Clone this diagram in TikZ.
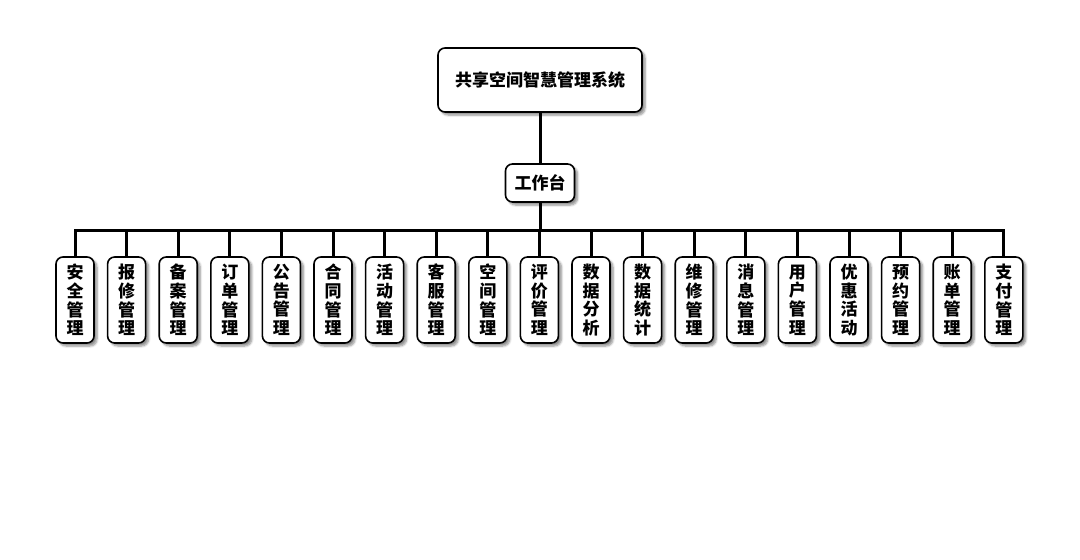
\documentclass[tikz,border=0pt]{standalone}
\usepackage{fontspec}
\setmainfont{Noto Sans CJK SC}
\usetikzlibrary{positioning,shadows.blur}
\begin{document}
\begin{tikzpicture}[
  x=1pt, y=-1pt,
  box/.style={rectangle, draw, line width=1.6pt, rounded corners=7pt, fill=white,
    blur shadow={shadow xshift=3pt, shadow yshift=-3pt, shadow blur steps=6, shadow opacity=45},
    font=\bfseries\fontsize{17}{18.6}\selectfont, align=center, inner sep=0pt},
  leaf/.style={box, minimum width=38pt, minimum height=86pt},
  link/.style={line width=3pt},
  node distance=2cm
]
\useasboundingbox (0,0) rectangle (1080,560);
\node[box, minimum width=204pt, minimum height=64pt] (root) at (540,80) {共享空间智慧管理系统};
\node[box, minimum width=69pt, minimum height=38pt, below of=root, node distance=103pt] (desk) {工作台};
\coordinate (bus) at (540,230);

\draw[link] (root) -- (desk);
\draw[link] (desk) -- (bus);

\foreach \txt [count=\i from 0] in {安\\全\\管\\理, 报\\修\\管\\理, 备\\案\\管\\理, 订\\单\\管\\理,
    公\\告\\管\\理, 合\\同\\管\\理, 活\\动\\管\\理, 客\\服\\管\\理, 空\\间\\管\\理,
    评\\价\\管\\理, 数\\据\\分\\析, 数\\据\\统\\计, 维\\修\\管\\理, 消\\息\\管\\理,
    用\\户\\管\\理, 优\\惠\\活\\动, 预\\约\\管\\理, 账\\单\\管\\理, 支\\付\\管\\理} {
  \node[leaf] (m\i) at (75+51.6*\i,300) {\txt};
  \draw[link] (bus) -| (m\i.north);
}
\end{tikzpicture}
\end{document}
